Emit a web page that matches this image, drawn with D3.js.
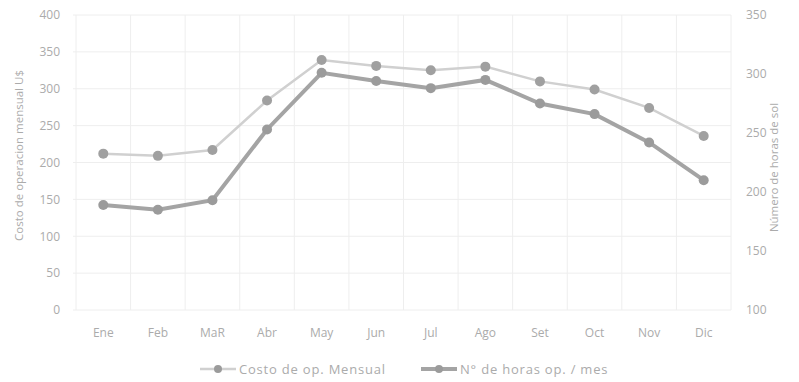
<!DOCTYPE html>
<html>
<head>
<meta charset="utf-8">
<script src="https://cdn.jsdelivr.net/npm/d3@7"></script>
<style>
  html, body { margin: 0; padding: 0; background: #fff; }
  svg { display: block; }
  text { font-family: "Open Sans", "DejaVu Sans", sans-serif; }
</style>
</head>
<body>
<svg id="chart" width="799" height="382"></svg>
<script>
const months = ["Ene","Feb","MaR","Abr","May","Jun","Jul","Ago","Set","Oct","Nov","Dic"];
const costo = [212, 209, 217, 284, 339, 331, 325, 330, 310, 299, 274, 236];
const horas = [189, 185, 193, 253, 301, 294, 288, 295, 275, 266, 242, 210];
const leftTicks = [0, 50, 100, 150, 200, 250, 300, 350, 400];
const rightTicks = [100, 150, 200, 250, 300, 350];

const svg = d3.select("#chart");
const W = 799, H = 382;
const m = { left: 76, right: 68, top: 15, bottom: 72 };
const x0 = m.left, x1 = W - m.right, y0 = H - m.bottom, y1 = m.top;

const x = d3.scaleBand().domain(months).range([x0, x1]);
const yL = d3.scaleLinear().domain([0, 400]).range([y0, y1]);
const yR = d3.scaleLinear().domain([100, 350]).range([y0, y1]);

const textColor = "#ababab";
const gridColor = "#eeeeee";

// horizontal gridlines
svg.append("g").selectAll("line").data(leftTicks).join("line")
  .attr("x1", x0 - 3).attr("x2", x1)
  .attr("y1", d => yL(d)).attr("y2", d => yL(d))
  .attr("stroke", gridColor).attr("stroke-width", 1);

// vertical gridlines at category boundaries
const bounds = months.map(d => x(d)).concat([x1]);
svg.append("g").selectAll("line").data(bounds).join("line")
  .attr("x1", d => d).attr("x2", d => d)
  .attr("y1", y1).attr("y2", y0)
  .attr("stroke", gridColor).attr("stroke-width", 1);

// left axis
const axL = svg.append("g").attr("transform", `translate(${x0 - 16},0)`)
  .call(d3.axisLeft(yL).tickValues(leftTicks).tickSize(0).tickPadding(0));
axL.select(".domain").remove();
axL.selectAll("text").attr("fill", textColor).attr("font-size", 12);

// right axis
const axR = svg.append("g").attr("transform", `translate(${x1 + 15},0)`)
  .call(d3.axisRight(yR).tickValues(rightTicks).tickSize(0).tickPadding(0));
axR.select(".domain").remove();
axR.selectAll("text").attr("fill", textColor).attr("font-size", 12);

// bottom axis
const axB = svg.append("g").attr("transform", `translate(0,${y0 + 10})`)
  .call(d3.axisBottom(x).tickSize(0).tickPadding(8));
axB.select(".domain").remove();
axB.selectAll("text").attr("fill", textColor).attr("font-size", 12);

// axis titles
svg.append("text")
  .attr("transform", `translate(23,${(y0 + y1) / 2 - 7}) rotate(-90)`)
  .attr("text-anchor", "middle").attr("fill", textColor).attr("font-size", 11.5)
  .text("Costo de operacion mensual U$");
svg.append("text")
  .attr("transform", `translate(778,${(y0 + y1) / 2 + 5}) rotate(-90)`)
  .attr("text-anchor", "middle").attr("fill", textColor).attr("font-size", 11.5)
  .text("Número  de horas de sol");

const cx = d => x(d) + x.bandwidth() / 2;

// Costo line (light)
const lineL = d3.line().x((d, i) => cx(months[i])).y(d => yL(d));
svg.append("path").datum(costo).attr("d", lineL)
  .attr("fill", "none").attr("stroke", "#d0d0d0").attr("stroke-width", 2.5);
svg.append("g").selectAll("circle").data(costo).join("circle")
  .attr("cx", (d, i) => cx(months[i])).attr("cy", d => yL(d)).attr("r", 5)
  .attr("fill", "#a0a0a0");

// Horas line (dark)
const lineR = d3.line().x((d, i) => cx(months[i])).y(d => yR(d));
svg.append("path").datum(horas).attr("d", lineR)
  .attr("fill", "none").attr("stroke", "#a4a4a4").attr("stroke-width", 4);
svg.append("g").selectAll("circle").data(horas).join("circle")
  .attr("cx", (d, i) => cx(months[i])).attr("cy", d => yR(d)).attr("r", 5)
  .attr("fill", "#9b9b9b");

// legend
const legend = svg.append("g").attr("transform", "translate(0,369)");
const items = [
  { label: "Costo de op. Mensual", x: 200, stroke: "#d0d0d0", sw: 2.5 },
  { label: "N° de horas op. / mes", x: 421, stroke: "#a4a4a4", sw: 4 }
];
items.forEach(it => {
  legend.append("line").attr("x1", it.x).attr("x2", it.x + 36).attr("y1", 0).attr("y2", 0)
    .attr("stroke", it.stroke).attr("stroke-width", it.sw);
  legend.append("circle").attr("cx", it.x + 18).attr("cy", 0).attr("r", 4).attr("fill", "#9b9b9b");
  legend.append("text").attr("x", it.x + 39).attr("y", 4.5).attr("fill", textColor)
    .attr("font-size", 13).attr("letter-spacing", 0.8).text(it.label);
});
</script>
</body>
</html>
